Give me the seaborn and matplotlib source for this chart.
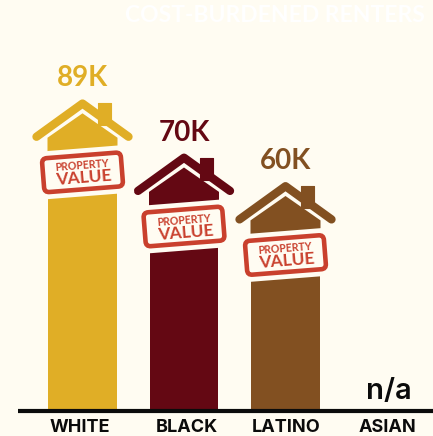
import numpy as np
import pandas as pd
import matplotlib
matplotlib.use("Agg")
import matplotlib.pyplot as plt
from matplotlib.patches import FancyBboxPatch, Polygon, Rectangle
from matplotlib.transforms import Affine2D
import seaborn as sns

groups = ["WHITE", "BLACK", "LATINO", "ASIAN"]
values = [89, 70, 60, np.nan]
value_labels = ["89K", "70K", "60K", "n/a"]
bar_colors = ["#E0AE26", "#640813", "#825021", "#444444"]

title = "COST-BURDENED RENTERS"
sign_lines = ["PROPERTY", "VALUE"]
paper = "#FFFCF2"
ink = "#0B0B0B"
sign_red = "#C9402D"

W, H, DPI = 433, 436, 100
BASELINE_FROM_BOTTOM = 27
PX_PER_K = 2.85
PX_PER_GROUP = 101.5
FIRST_CENTER = 82.5
TICK_NUDGE = [-2.8, 2.5, 0.2, 0.0]

sns.set_theme(style="white")
plt.rcParams["font.family"] = ["Lato", "DejaVu Sans"]

fig = plt.figure(figsize=(W / DPI, H / DPI), dpi=DPI, facecolor=paper)
ax = fig.add_axes([0, BASELINE_FROM_BOTTOM / H, 1, 1 - BASELINE_FROM_BOTTOM / H], facecolor=paper)

frame = pd.DataFrame({"group": groups, "value": values})
sns.barplot(data=frame, x="group", y="value", hue="group", order=groups, hue_order=groups,
            palette=bar_colors, width=69 / PX_PER_GROUP, legend=False, ax=ax, zorder=2,
            saturation=1, linewidth=0)

ax.set_xlim(-FIRST_CENTER / PX_PER_GROUP, (W - FIRST_CENTER) / PX_PER_GROUP)
ax.set_ylim(0, (H - BASELINE_FROM_BOTTOM) / PX_PER_K)
ax.set_xlabel("")
ax.set_ylabel("")
ax.set_yticks([])
ax.tick_params(axis="x", length=0, pad=7)
ax.set_xticks([i + n / PX_PER_GROUP for i, n in enumerate(TICK_NUDGE)])
ax.set_xticklabels(groups, family=["Inter", "DejaVu Sans"], fontweight="bold", fontsize=13, color=ink)
sns.despine(ax=ax, left=True, bottom=True, top=True, right=True)

# ground line running off the right edge
ax.plot([(18 - FIRST_CENTER) / PX_PER_GROUP, (W - FIRST_CENTER) / PX_PER_GROUP], [-0.55, -0.55],
        color=ink, lw=3, solid_capstyle="butt", clip_on=False, zorder=6)


def draw_house(i, value, color, label):
    """House roof, wall and tilted sign, laid out in pixels from the top of bar i."""
    ox, oy = ax.transData.transform((i, value))
    base = Affine2D().translate(ox, oy)
    ax.add_patch(Rectangle((16, 30), 13, 22, facecolor=color, edgecolor=color, lw=0.8,
                           joinstyle="round", transform=base, zorder=2))
    ax.add_patch(Polygon([(0, 42), (35, 17.6), (35, 0), (-35, 0), (-35, 17.6)], closed=True,
                         facecolor=color, edgecolor="none", transform=base, zorder=2))
    ax.plot([-46, 0, 46], [18.6, 51.8, 18.6], color=color, lw=6, solid_capstyle="round",
            solid_joinstyle="round", transform=base, zorder=3)

    sign = Affine2D().rotate_deg(4.5).translate(ox, oy - 17)
    ax.add_patch(Rectangle((-50, -24), 100, 48, facecolor=paper, edgecolor="none",
                           transform=sign, zorder=4))
    ax.add_patch(FancyBboxPatch((-39.5, -17), 79, 34, boxstyle="round,pad=0,rounding_size=5",
                                facecolor=paper, edgecolor=sign_red, lw=3.3, transform=sign, zorder=5))
    ax.text(0, 3, sign_lines[0], transform=sign, rotation=4.5, rotation_mode="anchor",
            ha="center", va="baseline", fontsize=7.6, fontweight="bold", color=sign_red, zorder=6)
    ax.text(1, -11, sign_lines[1], transform=sign, rotation=4.5, rotation_mode="anchor",
            ha="center", va="baseline", fontsize=12.5, fontweight="bold", color=sign_red, zorder=6)
    ax.text(ox, oy + 77, label, transform=Affine2D(), ha="center", va="center",
            fontsize=20, fontweight="bold", color=color, zorder=6)


for i, (value, color, label) in enumerate(zip(values, bar_colors, value_labels)):
    if np.isnan(value):
        ax.text(i + 2 / PX_PER_GROUP, 18 / PX_PER_K, label, ha="center", va="center", fontsize=21,
                fontweight="semibold", family=["Inter", "DejaVu Sans"], color=ink, zorder=6)
    else:
        draw_house(i, value, color, label)

fig.text(275 / W, 1 - 16 / H, title, color="white", fontsize=16.5, fontweight="bold",
         ha="center", va="center")

fig.savefig("out.png", dpi=DPI, facecolor=paper)
